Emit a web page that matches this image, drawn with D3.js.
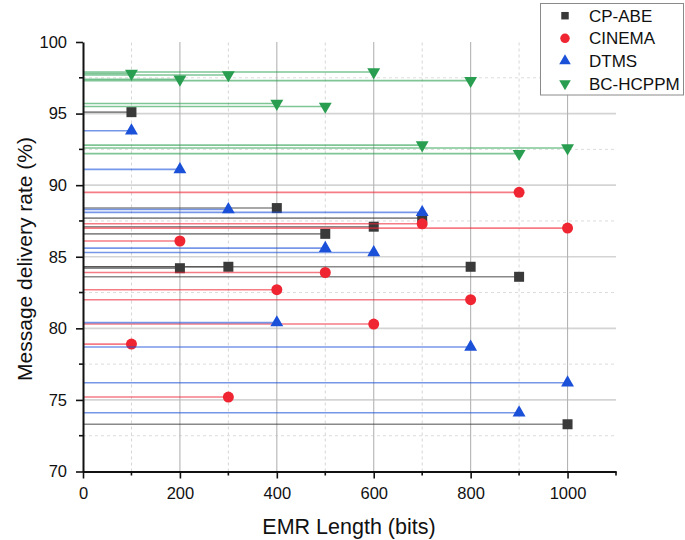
<!DOCTYPE html>
<html>
<head>
<meta charset="utf-8">
<script src="https://cdn.jsdelivr.net/npm/d3@7"></script>
<style>
  html, body { margin: 0; padding: 0; background: #fff; }
  svg { display: block; font-family: "Liberation Sans", Arial, sans-serif; }
</style>
</head>
<body>
<svg id="chart" width="685" height="540"></svg>
<script>
// EMR length (bits) for each measurement
const emrLengths = [100, 200, 300, 400, 500, 600, 700, 800, 900, 1000];

// Message delivery rate (%) per scheme
const cpAbe   = [95.1, 84.2, 84.3, 88.4, 86.6, 87.1, 87.7, 84.3, 83.6, 73.3];
const cinema  = [78.9, 86.1, 75.2, 82.7, 83.9, 80.3, 87.3, 82.0, 89.5, 87.0];
const dtms    = [93.8, 91.1, 88.3, 80.4, 85.6, 85.3, 88.1, 78.7, 74.1, 76.2];
const bcHcppm = [97.8, 97.4, 97.7, 95.7, 95.5, 97.9, 92.8, 97.3, 92.2, 92.6];

const seriesNames = ["CP-ABE", "CINEMA", "DTMS", "BC-HCPPM"];

const xTicks = [0, 200, 400, 600, 800, 1000];
const xMinorTicks = [100, 300, 500, 700, 900, 1100];
const yTicks = [70, 75, 80, 85, 90, 95, 100];
const yMinorTicks = [72.5, 77.5, 82.5, 87.5, 92.5, 97.5];

const series = [
  { name: seriesNames[0], values: cpAbe,   color: "#3a3a3a", shape: d3.symbolSquare,   size: 100, rot: 0 },
  { name: seriesNames[1], values: cinema,  color: "#ef2532", shape: d3.symbolCircle,   size: 95,  rot: 0 },
  { name: seriesNames[2], values: dtms,    color: "#1b50d8", shape: d3.symbolTriangle, size: 72,  rot: 0 },
  { name: seriesNames[3], values: bcHcppm, color: "#2a9e50", shape: d3.symbolTriangle, size: 72,  rot: 180 }
];

const svg = d3.select("#chart");

const x = d3.scaleLinear().domain([0, 1100]).range([83, 616]);
const y = d3.scaleLinear().domain([70, 100]).range([471.5, 42]);

// Grid
const grid = svg.append("g");
grid.selectAll("line.hmaj").data(yTicks.filter(v => v > 70 && v < 100)).join("line")
  .attr("x1", x(0)).attr("x2", x(1100))
  .attr("y1", d => y(d)).attr("y2", d => y(d))
  .attr("stroke", "#d4d4d4").attr("stroke-width", 1.6);
grid.selectAll("line.hmin").data(yMinorTicks).join("line")
  .attr("x1", x(0)).attr("x2", x(1100))
  .attr("y1", d => y(d)).attr("y2", d => y(d))
  .attr("stroke", "#dcdcdc").attr("stroke-width", 1).attr("stroke-dasharray", "3,3");
grid.selectAll("line.vmaj").data(xTicks.filter(v => v > 0)).join("line")
  .attr("x1", d => x(d)).attr("x2", d => x(d))
  .attr("y1", y(70)).attr("y2", y(100))
  .attr("stroke", "#b4b4b4").attr("stroke-width", 1.1);
grid.selectAll("line.vmin").data(xMinorTicks.filter(v => v < 1100)).join("line")
  .attr("x1", d => x(d)).attr("x2", d => x(d))
  .attr("y1", y(70)).attr("y2", y(100))
  .attr("stroke", "#d6d6d6").attr("stroke-width", 1).attr("stroke-dasharray", "3,3");

// Series: drop lines from the y-axis, then markers
series.forEach(s => {
  const g = svg.append("g");
  const pts = emrLengths.map((e, i) => ({ x: e, y: s.values[i] }));
  g.selectAll("line").data(pts).join("line")
    .attr("x1", x(0)).attr("x2", d => x(d.x))
    .attr("y1", d => y(d.y)).attr("y2", d => y(d.y))
    .attr("stroke", s.color).attr("stroke-opacity", 0.6).attr("stroke-width", 1.6);
  g.selectAll("path").data(pts).join("path")
    .attr("d", d3.symbol().type(s.shape).size(s.size))
    .attr("transform", d => `translate(${x(d.x)},${y(d.y)}) rotate(${s.rot})`)
    .attr("fill", s.color);
});

// Axes
const xAxis = svg.append("g").attr("transform", `translate(0,${y(70)})`)
  .call(d3.axisBottom(x).tickValues(xTicks).tickSize(7).tickPadding(9).tickSizeOuter(0).tickFormat(d3.format("d")));
const yAxis = svg.append("g").attr("transform", `translate(${x(0)},0)`)
  .call(d3.axisLeft(y).tickValues(yTicks).tickSize(7).tickPadding(9).tickSizeOuter(0).tickFormat(d3.format("d")));

[xAxis, yAxis].forEach(a => {
  a.select(".domain").attr("stroke", "#111").attr("stroke-width", 2);
  a.selectAll(".tick line").attr("stroke", "#111").attr("stroke-width", 1.6);
  a.selectAll(".tick text").attr("fill", "#111").style("font-size", "16.5px")
    .style("font-family", "'Liberation Sans', Arial, sans-serif");
});

xAxis.selectAll("line.minor").data(xMinorTicks).join("line")
  .attr("x1", d => x(d)).attr("x2", d => x(d)).attr("y1", 0).attr("y2", 4)
  .attr("stroke", "#111").attr("stroke-width", 1.6);
yAxis.selectAll("line.minor").data(yMinorTicks).join("line")
  .attr("y1", d => y(d)).attr("y2", d => y(d)).attr("x1", 0).attr("x2", -4)
  .attr("stroke", "#111").attr("stroke-width", 1.6);

// Axis titles
svg.append("text")
  .attr("x", 349).attr("y", 534)
  .attr("text-anchor", "middle")
  .style("font-size", "21.5px").attr("fill", "#111")
  .text("EMR Length (bits)");

svg.append("text")
  .attr("transform", "translate(31.5,259) rotate(-90)")
  .attr("text-anchor", "middle")
  .style("font-size", "21px").attr("fill", "#111")
  .text("Message delivery rate (%)");

// Legend
const legend = svg.append("g");
legend.append("rect")
  .attr("x", 540.5).attr("y", 3.5).attr("width", 143).attr("height", 91.5)
  .attr("fill", "#fff").attr("stroke", "#8a8a8a").attr("stroke-width", 1);
const legendSizes = [56, 70, 58, 58];
series.forEach((s, i) => {
  const cy = 15.7 + i * 22.6;
  legend.append("path")
    .attr("d", d3.symbol().type(s.shape).size(legendSizes[i]))
    .attr("transform", `translate(565,${cy}) rotate(${s.rot})`)
    .attr("fill", s.color);
  legend.append("text")
    .attr("x", 589).attr("y", cy).attr("dy", "0.36em")
    .style("font-size", "17px").attr("fill", "#111")
    .text(s.name);
});
</script>
</body>
</html>
